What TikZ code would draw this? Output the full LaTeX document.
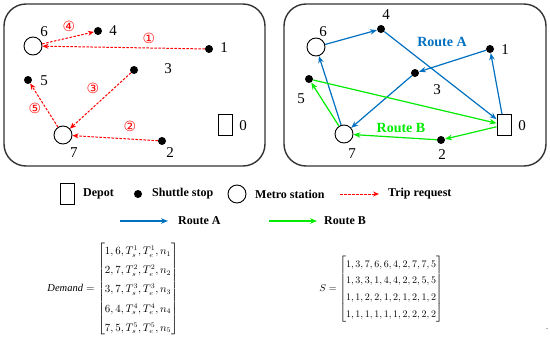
\documentclass[tikz,border=0pt]{standalone}
\usepackage{amsmath}
\usepackage{fontspec}
\setmainfont{Liberation Serif}
\newfontfamily\circfont{DejaVu Sans}
\usetikzlibrary{arrows.meta, positioning}
\definecolor{routeA}{RGB}{0,112,192}
\definecolor{routeB}{RGB}{0,235,0}
\tikzset{
    panel/.style={draw=black!80, line width=1.4pt, rounded corners=22pt},
    stopdot/.style={circle, fill=black, inner sep=0pt, minimum size=8pt},
    metro/.style={circle, draw=black, line width=0.9pt, fill=white, inner sep=0pt, minimum size=18pt},
    depot/.style={rectangle, draw=black, line width=0.9pt, fill=white, inner sep=0pt, minimum width=14pt, minimum height=21pt},
    lab/.style={font=\fontsize{15}{15}\selectfont, inner sep=1pt},
    legtext/.style={anchor=west, font=\bfseries\fontsize{12}{12}\selectfont, inner sep=1pt},
    req/.style={red, line width=1pt, dash pattern=on 2.5pt off 1.5pt, -{Stealth[length=6pt, width=5pt]}},
    reqnum/.style={red, font=\circfont\fontsize{14}{14}\selectfont, inner sep=0pt},
    routeAline/.style={routeA, line width=1.2pt, -{Stealth[length=7pt, width=5.5pt]}},
    routeBline/.style={routeB, line width=1.2pt, -{Stealth[length=7pt, width=5.5pt]}}
}

\begin{document}
\begin{tikzpicture}[x=1pt, y=-1pt]
    \useasboundingbox (0,0) rectangle (550,343);

    % left panel: trip requests
    \draw [panel] (4,4) rectangle (265,166);
    \node (l6) [metro] at (33,46) {};
    \node (l4) [stopdot] at (98,31) {};
    \node (l1) [stopdot] at (209,49) {};
    \node (l3) [stopdot] at (134,70) {};
    \node (l5) [stopdot] at (28,80) {};
    \node (l7) [metro] at (63,135) {};
    \node (l2) [stopdot] at (162,141) {};
    \node (l0) [depot] at (225,125) {};

    \node (l6lab) [lab] at (44,32) {6};
    \node (l4lab) [lab] at (113,31) {4};
    \node (l1lab) [lab] at (224,48) {1};
    \node (l3lab) [lab] at (168,69) {3};
    \node (l5lab) [lab] at (44,81) {5};
    \node (l7lab) [lab] at (74,153) {7};
    \node (l2lab) [lab] at (170,153) {2};
    \node (l0lab) [lab] at (243,126) {0};

    \draw [req] (l1) -- (l6);
    \draw [req] (l2) -- (l7);
    \draw [req] (l3) -- (l7);
    \draw [req] (l6) -- (l4);
    \draw [req] (l7) -- (l5);

    \node (q1) [reqnum] at (149,38) {①};
    \node (q2) [reqnum] at (130,126) {②};
    \node (q3) [reqnum] at (93,88) {③};
    \node (q4) [reqnum] at (69,26) {④};
    \node (q5) [reqnum] at (35,108) {⑤};

    % right panel: routes
    \draw [panel] (284,4) rectangle (546,166);
    \node (r6) [metro] at (316,47) {};
    \node (r4) [stopdot] at (381,29) {};
    \node (r1) [stopdot] at (490,49) {};
    \node (r3) [stopdot] at (415,73) {};
    \node (r5) [stopdot] at (309,79) {};
    \node (r7) [metro] at (344,134) {};
    \node (r2) [stopdot] at (441,140) {};
    \node (r0) [depot] at (504,125) {};

    \node (r6lab) [lab] at (323,32) {6};
    \node (r4lab) [lab] at (386,15) {4};
    \node (r1lab) [lab] at (505,50) {1};
    \node (r3lab) [lab] at (437,90) {3};
    \node (r5lab) [lab] at (301,99) {5};
    \node (r7lab) [lab] at (352,154) {7};
    \node (r2lab) [lab] at (442,155) {2};
    \node (r0lab) [lab] at (522,126) {0};

    \draw [routeAline] (r0) -- (r1);
    \draw [routeAline] (r1) -- (r3);
    \draw [routeAline] (r3) -- (r7);
    \draw [routeAline] (r7) -- (r6);
    \draw [routeAline] (r6) -- (r4);
    \draw [routeAline] (r4) -- (r0);

    \draw [routeBline] (r0) -- (r2);
    \draw [routeBline] (r2) -- (r7);
    \draw [routeBline] (r7) -- (r5);
    \draw [routeBline] (r5) -- (r0);

    \node (routeAlab) [routeA, font=\bfseries\fontsize{14}{14}\selectfont] at (442,42) {Route A};
    \node (routeBlab) [routeB, font=\bfseries\fontsize{14}{14}\selectfont] at (401,128) {Route B};

    % legend
    \node (kdepot) [depot] at (67,194) {};
    \node (tdepot) [legtext] at (82,194) {Depot};
    \node (kstop) [stopdot] at (138,194) {};
    \node (tstop) [legtext] at (151,194) {Shuttle stop};
    \node (kmetro) [metro] at (237,194) {};
    \node (tmetro) [legtext] at (254,194) {Metro station};
    \coordinate (kreqa) at (340,194);
    \coordinate (kreqb) at (379,194);
    \draw [req] (kreqa) -- (kreqb);
    \node (treq) [legtext] at (387,194) {Trip request};

    \coordinate (kAa) at (120,221);
    \coordinate (kAb) at (168,221);
    \draw [routeAline] (kAa) -- (kAb);
    \node (tA) [legtext] at (177,221) {Route A};
    \coordinate (kBa) at (269,221);
    \coordinate (kBb) at (317,221);
    \draw [routeBline] (kBa) -- (kBb);
    \node (tB) [legtext] at (323,221) {Route B};

    % matrices
    \node (demand) at (113,289) {\fontsize{10.5}{12}\selectfont\renewcommand{\arraystretch}{1.6}$\mathit{Demand}=\begin{bmatrix}1,6,T_s^1,T_e^1,n_1\\ 2,7,T_s^2,T_e^2,n_2\\ 3,7,T_s^3,T_e^3,n_3\\ 6,4,T_s^4,T_e^4,n_4\\ 7,5,T_s^5,T_e^5,n_5\end{bmatrix}$};
    \node (smat) at (381,289) {\fontsize{10}{12}\selectfont\renewcommand{\arraystretch}{1.4}$S=\begin{bmatrix}1,3,7,6,6,4,2,7,7,5\\ 1,3,3,1,4,4,2,2,5,5\\ 1,1,2,2,1,2,1,2,1,2\\ 1,1,1,1,1,1,2,2,2,2\end{bmatrix}$};
    \node (stop) [font=\fontsize{8}{8}\selectfont, inner sep=0pt] at (547,329) {.};
\end{tikzpicture}
\end{document}
